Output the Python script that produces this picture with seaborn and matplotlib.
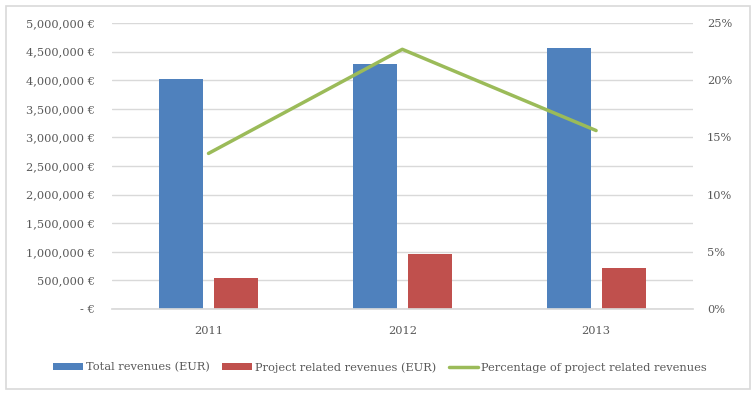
import matplotlib
matplotlib.use("Agg")
import matplotlib.pyplot as plt
import matplotlib.ticker as mticker
from matplotlib.patches import Rectangle
import seaborn as sns
import pandas as pd

years = ["2011", "2012", "2013"]
total_rev = [4025000, 4275000, 4565000]
project_rev = [535000, 965000, 715000]
pct_project = [0.136, 0.227, 0.156]

s_total = "Total revenues (EUR)"
s_proj = "Project related revenues (EUR)"
s_pct = "Percentage of project related revenues"

df = pd.DataFrame({
    "year": years * 2,
    "value": total_rev + project_rev,
    "series": [s_total] * 3 + [s_proj] * 3,
})
df_pct = pd.DataFrame({"year": years, "pct": pct_project})

sns.set_theme(style="white")
plt.rcParams["font.family"] = ["DejaVu Serif"]
txt = "#595959"
grid = "#d9d9d9"
fs = 8.2

fig = plt.figure(figsize=(7.55, 3.95), dpi=100)
ax = fig.add_axes([111.6 / 755, 86 / 395, 581.4 / 755, 286 / 395])

sns.barplot(data=df, x="year", y="value", hue="series", ax=ax,
            palette=["#4F81BD", "#C0504D"], width=0.568, gap=0.2,
            saturation=1, linewidth=0, legend=True)
ax.set_ylim(0, 5000000)
ax.set_yticks(range(0, 5000001, 500000))
ax.yaxis.set_major_formatter(mticker.FuncFormatter(
    lambda v, p: "- €" if v == 0 else f"{int(v):,} €"))
ax.grid(axis="y", color=grid, linewidth=1)
ax.set_axisbelow(True)
ax.set_xlabel("")
ax.set_ylabel("")
for s in ["top", "left", "right"]:
    ax.spines[s].set_visible(False)
ax.spines["bottom"].set_color(grid)
ax.tick_params(axis="y", length=0, pad=12, labelsize=fs, labelcolor=txt)
ax.tick_params(axis="x", length=0, pad=12, labelsize=fs, labelcolor=txt)
ax.set_xlim(-0.5, 2.5)

ax2 = ax.twinx()
sns.lineplot(data=df_pct, x="year", y="pct", ax=ax2, color="#9BBB59",
             linewidth=2.5, legend=False)
ax2.set_ylim(0, 0.25)
ax2.set_yticks([0, 0.05, 0.10, 0.15, 0.20, 0.25])
ax2.yaxis.set_major_formatter(mticker.PercentFormatter(1.0, decimals=0))
ax2.set_ylabel("")
for s in ["top", "left", "right", "bottom"]:
    ax2.spines[s].set_visible(False)
ax2.tick_params(axis="y", length=0, pad=10, labelsize=fs, labelcolor=txt)
ax.set_xlim(-0.5, 2.5)

handles, labels = ax.get_legend_handles_labels()
ax.get_legend().remove()
line_h = ax2.get_lines()[0]
leg = fig.legend(handles + [line_h], labels + [s_pct], loc="center",
                 bbox_to_anchor=(0.5035, 0.07), ncol=3, frameon=False,
                 fontsize=fs, handlelength=2.6, handleheight=0.6,
                 handletextpad=0.26, columnspacing=1.1, labelcolor=txt)

fig.patches.append(Rectangle((6 / 755, 6 / 395), 744 / 755, 383 / 395,
                             transform=fig.transFigure, fill=False,
                             edgecolor=grid, linewidth=1.2))

fig.savefig("out.png", dpi=100, facecolor="white")
